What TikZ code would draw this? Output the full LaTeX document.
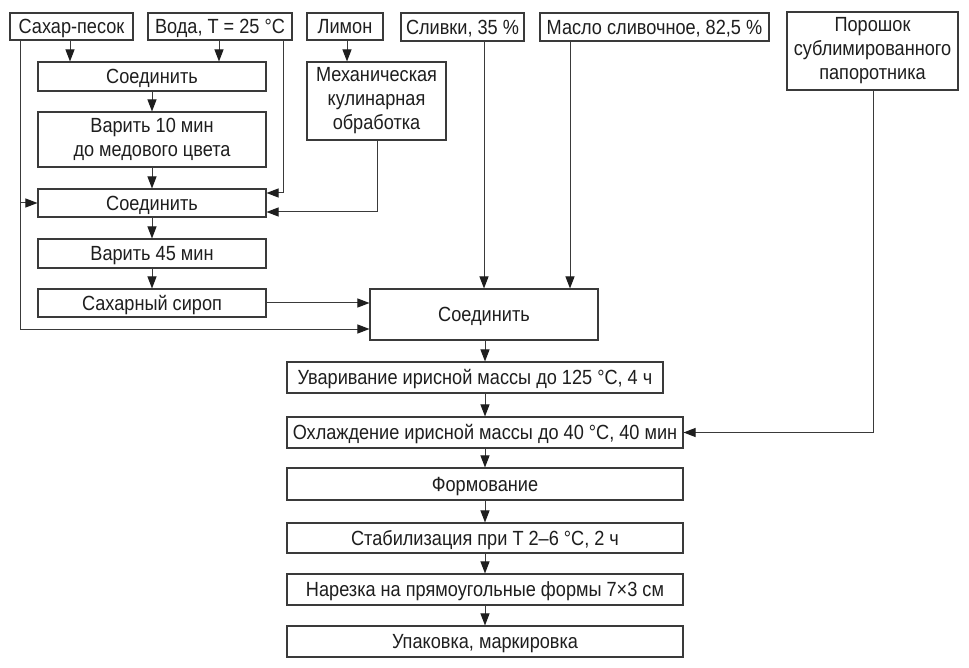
\documentclass[tikz,border=0pt]{standalone}
\usepackage{fontspec}
\setmainfont{Liberation Sans}[FakeStretch=0.885]
\usetikzlibrary{arrows.meta}
\definecolor{ln}{HTML}{3A3A3A}
\definecolor{tx}{HTML}{1E1E1E}
\begin{document}
\begin{tikzpicture}[x=1pt,y=-1pt,
  box/.style={draw=ln,line width=1.1pt,inner sep=0pt,align=center,text=tx,
    font=\fontsize{20.5}{24}\selectfont},
  one/.style={box,text height=14.7pt,text depth=0pt},
  arr/.style={draw=ln,line width=1pt,-{Triangle[length=12pt,width=9pt,fill=tx,color=tx]}}]
\useasboundingbox[fill=white] (0,0) rectangle (969,668);
% top row
\node[one,minimum width=123pt,minimum height=27pt] (sugar) at (71.5,26.5) {Сахар-песок};
\node[one,minimum width=144pt,minimum height=27pt] (water) at (220,26.5) {Вода, Т = 25 °С};
\node[one,minimum width=76pt,minimum height=27pt] (lemon) at (345,26.5) {Лимон};
\node[one,minimum width=123pt,minimum height=28pt] (cream) at (462.5,27) {Сливки, 35 \%};
\node[one,minimum width=229pt,minimum height=28pt] (butter) at (654.5,27) {Масло сливочное, 82,5 \%};
\node[box,minimum width=171pt,minimum height=78pt] (fern) at (872.5,51) {Порошок\\сублимированного\\папоротника};
\node[box,minimum width=139pt,minimum height=78pt] (mech) at (376.5,101) {Механическая\\кулинарная\\обработка};
% left column
\node[one,minimum width=228pt,minimum height=29pt] (s1) at (152,76.5) {Соединить};
\node[box,minimum width=228pt,minimum height=55pt] (v10) at (152,139.5) {Варить 10 мин\\до медового цвета};
\node[one,minimum width=228pt,minimum height=28pt] (s2) at (152,203) {Соединить};
\node[one,minimum width=228pt,minimum height=29pt] (v45) at (152,253.5) {Варить 45 мин};
\node[one,minimum width=228pt,minimum height=28pt] (syrup) at (152,303) {Сахарный сироп};
% main column
\node[one,minimum width=228pt,minimum height=51pt] (big) at (484,314.5) {Соединить};
\node[one,minimum width=376pt,minimum height=31pt] (uv) at (475,377.5) {Уваривание ирисной массы до 125 °С, 4 ч};
\node[one,minimum width=396pt,minimum height=31pt] (ohl) at (485,432.5) {Охлаждение ирисной массы до 40 °С, 40 мин};
\node[one,minimum width=396pt,minimum height=32pt] (form) at (485,484) {Формование};
\node[one,minimum width=396pt,minimum height=30pt] (stab) at (485,538) {Стабилизация при Т 2–6 °С, 2 ч};
\node[one,minimum width=396pt,minimum height=31pt] (nar) at (485,589.5) {Нарезка на прямоугольные формы 7×3 см};
\node[one,minimum width=396pt,minimum height=31pt] (upak) at (485,641.5) {Упаковка, маркировка};
% connectors
\draw[arr] (70,0 |- sugar.south) -- (70,0 |- s1.north);
\draw[arr] (219,0 |- water.south) -- (219,0 |- s1.north);
\draw[arr] (20,0 |- sugar.south) -- (20,329) -- (big.west |- 0,329);
\draw[arr] (20,0 |- s2.west) -- (s2.west);
\draw[arr] (283,0 |- water.south) -- (283,193) -- (s2.east |- 0,193);
\draw[arr] (347,0 |- lemon.south) -- (347,0 |- mech.north);
\draw[arr] (377,0 |- mech.south) -- (377,212) -- (s2.east |- 0,212);
\draw[arr] (s1.south) -- (v10.north);
\draw[arr] (v10.south) -- (s2.north);
\draw[arr] (s2.south) -- (v45.north);
\draw[arr] (v45.south) -- (syrup.north);
\draw[arr] (syrup.east) -- (big.west |- syrup.east);
\draw[arr] (484,0 |- cream.south) -- (484,0 |- big.north);
\draw[arr] (570,0 |- butter.south) -- (570,0 |- big.north);
\draw[arr] (485,0 |- big.south) -- (485,0 |- uv.north);
\draw[arr] (485,0 |- uv.south) -- (485,0 |- ohl.north);
\draw[arr] (873,0 |- fern.south) -- (873,0 |- ohl.east) -- (ohl.east);
\draw[arr] (ohl.south) -- (form.north);
\draw[arr] (form.south) -- (stab.north);
\draw[arr] (stab.south) -- (nar.north);
\draw[arr] (nar.south) -- (upak.north);
\end{tikzpicture}
\end{document}
